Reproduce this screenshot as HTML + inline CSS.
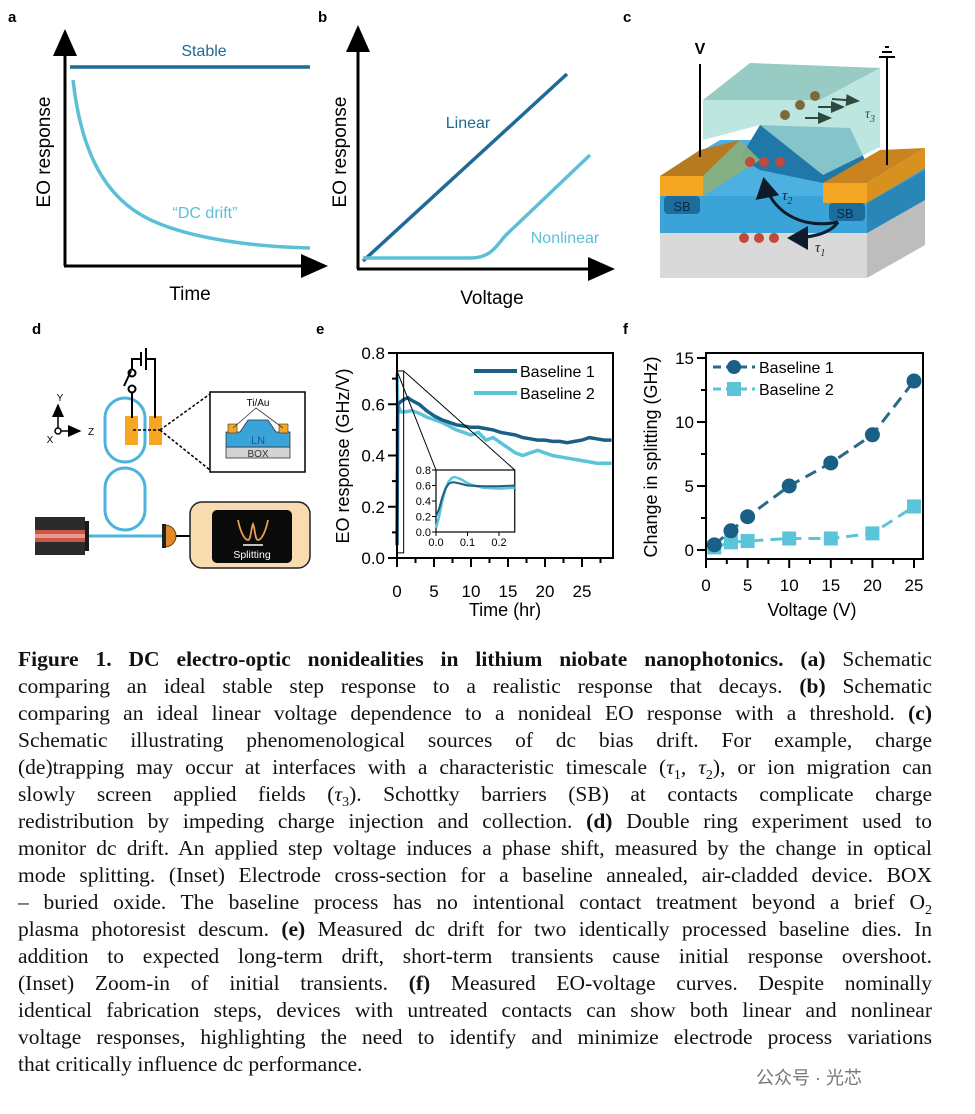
<!DOCTYPE html>
<html><head><meta charset="utf-8">
<style>
html,body{margin:0;padding:0;background:#fff;}
body{width:975px;height:1114px;position:relative;overflow:hidden;font-family:"Liberation Sans",sans-serif;}
svg{position:absolute;left:0;top:0;}
#cap{position:absolute;left:18px;top:646px;width:914px;font-family:"Liberation Serif",serif;font-size:21.5px;line-height:27px;color:#111;}
#cap div{text-align:justify;text-align-last:justify;white-space:nowrap;height:27px;}
#cap div.last{text-align-last:left;}
#cap sub{font-size:14px;line-height:0;vertical-align:baseline;position:relative;top:5px;}
#wm{position:absolute;left:756px;top:1064px;font-family:"Liberation Sans","Noto Sans CJK SC",sans-serif;font-size:18px;color:#777;}
</style></head><body>
<svg id="fig" width="975" height="640" font-family="Liberation Sans, sans-serif">
<defs>
<marker id="ar" markerWidth="10" markerHeight="10" refX="8" refY="5" orient="auto"><path d="M0,1 L9,5 L0,9 Z" fill="#000"/></marker>
<marker id="ar2" markerWidth="8" markerHeight="8" refX="6" refY="4" orient="auto"><path d="M0,0 L7,4 L0,8 Z" fill="#0d1b2a"/></marker>
<marker id="ar3" markerWidth="8" markerHeight="8" refX="6" refY="4" orient="auto"><path d="M0,1 L7,4 L0,7 Z" fill="#2e4a3e"/></marker>
</defs>
<g>
<text x="8" y="22" font-size="15" font-weight="bold">a</text>
<line x1="65" y1="266" x2="65" y2="32" stroke="#000" stroke-width="3" marker-end="url(#ar)"/>
<line x1="64" y1="266" x2="325" y2="266" stroke="#000" stroke-width="3" marker-end="url(#ar)"/>
<line x1="70" y1="67" x2="310" y2="67" stroke="#1f6a96" stroke-width="3.5"/>
<path d="M73,80 C82,160 110,205 160,224 C200,240 260,247 310,248" fill="none" stroke="#5bc0d6" stroke-width="3.5"/>
<text x="204" y="56" font-size="16" fill="#1f6a96" text-anchor="middle">Stable</text>
<text x="205" y="218" font-size="16" fill="#5bc0d6" text-anchor="middle">“DC drift”</text>
<text transform="translate(50,152) rotate(-90)" font-size="19" text-anchor="middle">EO response</text>
<text x="190" y="300" font-size="19" text-anchor="middle">Time</text>
</g>
<g>
<text x="318" y="22" font-size="15" font-weight="bold">b</text>
<line x1="358" y1="269" x2="358" y2="28" stroke="#000" stroke-width="3" marker-end="url(#ar)"/>
<line x1="357" y1="269" x2="612" y2="269" stroke="#000" stroke-width="3" marker-end="url(#ar)"/>
<line x1="363" y1="261" x2="567" y2="74" stroke="#1f6a96" stroke-width="3.5"/>
<path d="M363,258 L470,258 C490,258 495,248 505,236 L590,155" fill="none" stroke="#5bc0d6" stroke-width="3.5"/>
<text x="468" y="128" font-size="16" fill="#1f6a96" text-anchor="middle">Linear</text>
<text x="565" y="243" font-size="16" fill="#5bc0d6" text-anchor="middle">Nonlinear</text>
<text transform="translate(346,152) rotate(-90)" font-size="19" text-anchor="middle">EO response</text>
<text x="492" y="304" font-size="19" text-anchor="middle">Voltage</text>
</g>
<g>
<text x="623" y="22" font-size="15" font-weight="bold">c</text>
<polygon points="660,233 867,233 925,200 925,245 867,278 660,278" fill="#d9d9d9"/>
<polygon points="867,233 925,200 925,245 867,278" fill="#bdbdbd"/>
<polygon points="660,196 867,196 925,165 925,200 867,233 660,233" fill="#3aa3d8"/>
<polygon points="867,203 925,170 925,200 867,233" fill="#2b86b8"/>
<polygon points="660,176 720,140 760,140 805,170 825,178 867,178 867,196 660,196" fill="#4cb0e0"/>
<polygon points="740,158 760,125 850,128 865,160 823,183 760,170" fill="#1f78a8"/>
<polygon points="703,100 750,63 880,68 880,147 823,175 760,125 703,140" fill="#a8ddd6" opacity="0.75"/>
<polygon points="703,100 750,63 880,68 820,100" fill="#8fc4bd" opacity="0.8"/>
<polygon points="660,176 703,176 703,196 660,196" fill="#f5a623"/>
<polygon points="660,176 700,150 740,140 703,176" fill="#b87a20"/>
<polygon points="703,176 740,140 760,160 703,196" fill="#8bb07a" opacity="0.9"/>
<polygon points="823,183 867,183 867,203 823,203" fill="#f5a623"/>
<polygon points="823,183 880,150 925,148 867,183" fill="#c98420"/>
<polygon points="867,183 925,148 925,168 867,203" fill="#d8901f"/>
<rect x="664" y="196" width="36" height="18" rx="4" fill="#1d6d9c"/>
<rect x="829" y="203" width="36" height="18" rx="4" fill="#1d6d9c"/>
<text x="682" y="211" font-size="13" fill="#0b2a40" text-anchor="middle">SB</text>
<text x="845" y="218" font-size="13" fill="#0b2a40" text-anchor="middle">SB</text>
<line x1="700" y1="64" x2="700" y2="157" stroke="#000" stroke-width="2"/>
<text x="700" y="54" font-size="16" font-weight="bold" text-anchor="middle">V</text>
<line x1="887" y1="57" x2="887" y2="165" stroke="#000" stroke-width="2"/>
<line x1="879" y1="57" x2="895" y2="57" stroke="#000" stroke-width="2"/><line x1="882" y1="52" x2="892" y2="52" stroke="#000" stroke-width="2"/><line x1="885" y1="47" x2="889" y2="47" stroke="#000" stroke-width="2"/>
<g fill="#c0483d"><circle cx="750" cy="162" r="5"/><circle cx="764" cy="162" r="5"/><circle cx="780" cy="162" r="5"/><circle cx="744" cy="238" r="5"/><circle cx="759" cy="238" r="5"/><circle cx="774" cy="238" r="5"/></g>
<g fill="#7d6a3a"><circle cx="785" cy="115" r="5"/><circle cx="800" cy="105" r="5"/><circle cx="815" cy="96" r="5"/></g>
<g stroke="#2e4a3e" stroke-width="2" marker-end="url(#ar3)"><line x1="805" y1="118" x2="830" y2="118"/><line x1="818" y1="107" x2="843" y2="107"/><line x1="832" y1="99" x2="858" y2="101"/></g>
<text x="865" y="118" font-size="14" font-style="italic" font-family="Liberation Serif, serif" fill="#2e4a3e">τ<tspan font-size="10" dy="4">3</tspan></text>
<path d="M838,222 C800,230 770,210 764,180" fill="none" stroke="#0d1b2a" stroke-width="3" marker-end="url(#ar2)"/>
<path d="M838,222 C830,234 810,238 790,238" fill="none" stroke="#0d1b2a" stroke-width="3" marker-end="url(#ar2)"/>
<text x="782" y="200" font-size="15" font-style="italic" font-family="Liberation Serif, serif" fill="#0b2a40">τ<tspan font-size="10" dy="4">2</tspan></text>
<text x="815" y="252" font-size="15" font-style="italic" font-family="Liberation Serif, serif" fill="#0b2a40">τ<tspan font-size="10" dy="4">1</tspan></text>
</g>
<g>
<text x="32" y="334" font-size="15" font-weight="bold">d</text>
<rect x="105" y="398" width="40" height="64" rx="20" fill="none" stroke="#4bb3dc" stroke-width="3"/>
<rect x="105" y="468" width="40" height="62" rx="20" fill="none" stroke="#4bb3dc" stroke-width="3"/>
<rect x="125" y="416" width="13" height="29" fill="#f5a623"/><rect x="149" y="416" width="13" height="29" fill="#f5a623"/>
<line x1="133" y1="430" x2="160" y2="430" stroke="#000" stroke-width="1.5" stroke-dasharray="3,2"/>
<polyline points="132,418 132,390" fill="none" stroke="#000" stroke-width="2"/>
<circle cx="132" cy="389" r="3.5" fill="#fff" stroke="#000" stroke-width="2"/><circle cx="132" cy="373" r="3.5" fill="#fff" stroke="#000" stroke-width="2"/>
<line x1="131" y1="371" x2="124" y2="386" stroke="#000" stroke-width="2"/>
<polyline points="132,370 132,359 141,359" fill="none" stroke="#000" stroke-width="2"/>
<line x1="141" y1="352" x2="141" y2="366" stroke="#000" stroke-width="2"/><line x1="146" y1="348" x2="146" y2="370" stroke="#000" stroke-width="2"/>
<polyline points="146,359 155,359 155,418" fill="none" stroke="#000" stroke-width="2"/>
<line x1="160" y1="430" x2="210" y2="394" stroke="#000" stroke-width="1.5" stroke-dasharray="3,2"/>
<line x1="160" y1="430" x2="210" y2="470" stroke="#000" stroke-width="1.5" stroke-dasharray="3,2"/>
<rect x="210" y="392" width="95" height="80" fill="#fff" stroke="#000" stroke-width="1.5"/>
<rect x="226" y="447" width="64" height="11" fill="#d3d3d3" stroke="#333" stroke-width="0.8"/>
<polygon points="226,447 226,432 240,432 248,420 268,420 276,432 290,432 290,447" fill="#3aa3d8" stroke="#333" stroke-width="0.8"/>
<rect x="228" y="424" width="9" height="9" fill="#f5a623" stroke="#333" stroke-width="0.6"/><rect x="279" y="424" width="9" height="9" fill="#f5a623" stroke="#333" stroke-width="0.6"/>
<polyline points="233,428 256,408 283,428" fill="none" stroke="#333" stroke-width="0.8"/>
<text x="258" y="406" font-size="10" text-anchor="middle">Ti/Au</text>
<text x="258" y="444" font-size="11" fill="#1d5d88" text-anchor="middle">LN</text>
<text x="258" y="457" font-size="10" fill="#333" text-anchor="middle">BOX</text>
<g stroke="#000" stroke-width="1.5"><line x1="58" y1="431" x2="58" y2="405" marker-end="url(#ar)"/><line x1="58" y1="431" x2="80" y2="431" marker-end="url(#ar)"/></g>
<circle cx="58" cy="431" r="3" fill="#fff" stroke="#000" stroke-width="1.5"/>
<text x="60" y="401" font-size="10" text-anchor="middle">Y</text><text x="88" y="435" font-size="10">Z</text><text x="50" y="443" font-size="10" text-anchor="middle">X</text>
<rect x="35" y="517" width="50" height="38" fill="#2a2a2a"/><rect x="85" y="521" width="4" height="30" fill="#1a1a1a"/>
<rect x="35" y="530" width="50" height="12" fill="#c9584a"/><rect x="35" y="534" width="50" height="4" fill="#e89a8a"/>
<line x1="89" y1="536" x2="165" y2="536" stroke="#4bb3dc" stroke-width="3"/>
<path d="M165,525 A11,11 0 0 1 165,547 Z" fill="#e08a2a" stroke="#7a3d0a"/><rect x="162" y="524" width="4" height="24" fill="#222"/>
<line x1="176" y1="536" x2="190" y2="536" stroke="#000" stroke-width="2"/>
<rect x="190" y="502" width="120" height="66" rx="12" fill="#f8dcb0" stroke="#222" stroke-width="1.5"/>
<rect x="212" y="510" width="80" height="53" rx="5" fill="#0a0a0a"/>
<path d="M238,520 C240,530 244,540 248,540 C251,540 251,528 253,524 C255,528 255,540 258,540 C262,540 266,530 268,520" fill="none" stroke="#e8a04a" stroke-width="1.8"/>
<line x1="243" y1="545" x2="263" y2="545" stroke="#fff" stroke-width="1.5"/>
<text x="252" y="558" font-size="10.5" fill="#fff" text-anchor="middle">Splitting</text>
</g>
<text x="316" y="334" font-size="15" font-weight="bold">e</text>
<text x="623" y="334" font-size="15" font-weight="bold">f</text>
<g id="chartE"></g>
<g id="chartF"></g>
</svg>
<div id="cap">
<div><b>Figure 1. DC electro-optic nonidealities in lithium niobate nanophotonics. (a)</b> Schematic</div>
<div>comparing an ideal stable step response to a realistic response that decays. <b>(b)</b> Schematic</div>
<div>comparing an ideal linear voltage dependence to a nonideal EO response with a threshold. <b>(c)</b></div>
<div>Schematic illustrating phenomenological sources of dc bias drift. For example, charge</div>
<div>(de)trapping may occur at interfaces with a characteristic timescale (<i>τ</i><sub>1</sub>, <i>τ</i><sub>2</sub>), or ion migration can</div>
<div>slowly screen applied fields (<i>τ</i><sub>3</sub>). Schottky barriers (SB) at contacts complicate charge</div>
<div>redistribution by impeding charge injection and collection. <b>(d)</b> Double ring experiment used to</div>
<div>monitor dc drift. An applied step voltage induces a phase shift, measured by the change in optical</div>
<div>mode splitting. (Inset) Electrode cross-section for a baseline annealed, air-cladded device. BOX</div>
<div>– buried oxide. The baseline process has no intentional contact treatment beyond a brief O<sub>2</sub></div>
<div>plasma photoresist descum. <b>(e)</b> Measured dc drift for two identically processed baseline dies. In</div>
<div>addition to expected long-term drift, short-term transients cause initial response overshoot.</div>
<div>(Inset) Zoom-in of initial transients. <b>(f)</b> Measured EO-voltage curves. Despite nominally</div>
<div>identical fabrication steps, devices with untreated contacts can show both linear and nonlinear</div>
<div>voltage responses, highlighting the need to identify and minimize electrode process variations</div>
<div class="last">that critically influence dc performance.</div>
</div>
<div id="wm">公众号 · 光芯</div>
<script>
const eTime1 = [0,0.1,0.5,1,1.5,2,3,4,5,6,7,8,9,10,11,12,13,14,15,16,17,18,19,20,21,22,23,24,25,26,27,28,29];
const eResp1 = [0.05,0.6,0.61,0.62,0.625,0.615,0.6,0.575,0.555,0.54,0.53,0.52,0.515,0.51,0.51,0.505,0.5,0.49,0.485,0.48,0.47,0.465,0.46,0.46,0.455,0.455,0.45,0.455,0.46,0.47,0.465,0.46,0.46];
const eTime2 = [0,0.1,0.5,1,2,3,4,5,6,7,8,9,10,11,12,13,14,15,16,17,18,19,20,21,22,23,24,25,26,27,28,29];
const eResp2 = [0.72,0.6,0.57,0.57,0.575,0.565,0.55,0.54,0.53,0.515,0.5,0.49,0.48,0.49,0.46,0.47,0.45,0.43,0.41,0.4,0.41,0.42,0.41,0.4,0.395,0.39,0.385,0.38,0.375,0.37,0.37,0.37];
const insetTime1 = [0,0.01,0.02,0.03,0.04,0.05,0.06,0.08,0.1,0.15,0.2,0.25];
const insetResp1 = [0.2,0.3,0.45,0.56,0.62,0.64,0.64,0.62,0.6,0.59,0.59,0.6];
const insetTime2 = [0,0.01,0.02,0.03,0.04,0.05,0.06,0.08,0.1,0.12,0.15,0.2,0.25];
const insetResp2 = [0.05,0.2,0.4,0.55,0.65,0.7,0.71,0.68,0.63,0.6,0.57,0.56,0.57];
const eXTicks = [0,5,10,15,20,25];
const eYTicks = [0.0,0.2,0.4,0.6,0.8];
const insetXTicks = [0.0,0.1,0.2];
const insetYTicks = [0.0,0.2,0.4,0.6,0.8];
const fVolt = [1,3,5,10,15,20,25];
const fBase1 = [0.4,1.5,2.6,5.0,6.8,9.0,13.2];
const fBase2 = [0.2,0.6,0.7,0.9,0.9,1.3,3.4];
const fXTicks = [0,5,10,15,20,25];
const fYTicks = [0,5,10,15];

const NS='http://www.w3.org/2000/svg';
function mk(parent,tag,attrs,txt){const e=document.createElementNS(NS,tag);for(const k in attrs)e.setAttribute(k,attrs[k]);if(txt!==undefined)e.textContent=txt;parent.appendChild(e);return e;}
const C1='#1a5f86', C2='#5bc4d8';

const gE=document.getElementById('chartE');
const ex=t=>397+t*(582-397)/25, ey=v=>558-v*(558-353)/0.8;
function pathOf(xs,ys,fx,fy){return xs.map((x,i)=>(i?'L':'M')+fx(x).toFixed(1)+','+fy(ys[i]).toFixed(1)).join(' ');}
let p=mk(gE,'path',{d:pathOf(eTime2,eResp2,ex,ey),fill:'none',stroke:C2,'stroke-width':3.5});


p=mk(gE,'path',{d:pathOf(eTime1,eResp1,ex,ey),fill:'none',stroke:C1,'stroke-width':3.5});


mk(gE,'rect',{x:397,y:353,width:216,height:205,fill:'none',stroke:'#000','stroke-width':2});
eXTicks.forEach(t=>{mk(gE,'line',{x1:ex(t),y1:558,x2:ex(t),y2:567,stroke:'#000','stroke-width':2});
 const tx=mk(gE,'text',{x:ex(t),y:597,'font-size':17,'text-anchor':'middle'},String(t));});
for(let t=2.5;t<29;t+=5)mk(gE,'line',{x1:ex(t),y1:558,x2:ex(t),y2:563,stroke:'#000','stroke-width':2});
eYTicks.forEach(v=>{mk(gE,'line',{x1:388,y1:ey(v),x2:397,y2:ey(v),stroke:'#000','stroke-width':2});
 const tx=mk(gE,'text',{x:385,y:ey(v)+6,'font-size':17,'text-anchor':'end'},v.toFixed(1));});
for(let v=0.1;v<0.8;v+=0.2)mk(gE,'line',{x1:392,y1:ey(v),x2:397,y2:ey(v),stroke:'#000','stroke-width':2});
let t=mk(gE,'text',{x:505,y:616,'font-size':18,'text-anchor':'middle'},'Time (hr)');
t=mk(gE,'text',{transform:'translate(349,456) rotate(-90)','font-size':18,'text-anchor':'middle'},'EO response (GHz/V)');
mk(gE,'line',{x1:474,y1:371,x2:517,y2:371,stroke:C1,'stroke-width':4});
mk(gE,'text',{x:520,y:377,'font-size':16},'Baseline 1');
mk(gE,'line',{x1:474,y1:393,x2:517,y2:393,stroke:C2,'stroke-width':4});
mk(gE,'text',{x:520,y:399,'font-size':16},'Baseline 2');
mk(gE,'rect',{x:397,y:ey(0.73),width:ex(0.9)-397,height:ey(0.02)-ey(0.73),fill:'none',stroke:'#000','stroke-width':1});
const ix=v=>436+v*(499-436)/0.2, iy=v=>532-v*(532-470)/0.8;
mk(gE,'line',{x1:ex(0),y1:ey(0.73),x2:436,y2:470,stroke:'#000','stroke-width':1});
mk(gE,'line',{x1:ex(0.9),y1:ey(0.73),x2:ix(0.25),y2:470,stroke:'#000','stroke-width':1});
mk(gE,'rect',{x:436,y:470,width:ix(0.25)-436,height:62,fill:'#fff',stroke:'#000','stroke-width':1.2});
p=mk(gE,'path',{d:pathOf(insetTime2,insetResp2,ix,iy),fill:'none',stroke:C2,'stroke-width':2.5});


p=mk(gE,'path',{d:pathOf(insetTime1,insetResp1,ix,iy),fill:'none',stroke:C1,'stroke-width':2});


insetXTicks.forEach(v=>{mk(gE,'line',{x1:ix(v),y1:532,x2:ix(v),y2:536,stroke:'#000'});mk(gE,'text',{x:ix(v),y:546,'font-size':11,'text-anchor':'middle'},v.toFixed(1));});
insetYTicks.forEach(v=>{mk(gE,'line',{x1:432,y1:iy(v),x2:436,y2:iy(v),stroke:'#000'});mk(gE,'text',{x:431,y:iy(v)+4,'font-size':11,'text-anchor':'end'},v.toFixed(1));});

const gF=document.getElementById('chartF');
const fx=v=>706+v*(914-706)/25, fy=v=>550-v*(550-358)/15;
p=mk(gF,'path',{d:pathOf(fVolt,fBase2,fx,fy),fill:'none',stroke:C2,'stroke-width':3,'stroke-dasharray':'12,7'});


p=mk(gF,'path',{d:pathOf(fVolt,fBase1,fx,fy),fill:'none',stroke:'#2a6a88','stroke-width':3,'stroke-dasharray':'12,7'});


fVolt.forEach((v,i)=>{const r=mk(gF,'rect',{x:fx(v)-7,y:fy(fBase2[i])-7,width:14,height:14,fill:C2});
 
 
 const c=mk(gF,'circle',{cx:fx(v),cy:fy(fBase1[i]),r:7.5,fill:C1});
 
 });
mk(gF,'rect',{x:706,y:353,width:217,height:206,fill:'none',stroke:'#000','stroke-width':2});
fXTicks.forEach(v=>{mk(gF,'line',{x1:fx(v),y1:559,x2:fx(v),y2:568,stroke:'#000','stroke-width':2});
 const tx=mk(gF,'text',{x:fx(v),y:591,'font-size':17,'text-anchor':'middle'},String(v));});
for(let v=2.5;v<25;v+=5)mk(gF,'line',{x1:fx(v),y1:559,x2:fx(v),y2:564,stroke:'#000','stroke-width':2});
fYTicks.forEach(v=>{mk(gF,'line',{x1:697,y1:fy(v),x2:706,y2:fy(v),stroke:'#000','stroke-width':2});
 const tx=mk(gF,'text',{x:694,y:fy(v)+6,'font-size':17,'text-anchor':'end'},String(v));});
for(let v=2.5;v<15;v+=5)mk(gF,'line',{x1:701,y1:fy(v),x2:706,y2:fy(v),stroke:'#000','stroke-width':2});
t=mk(gF,'text',{x:812,y:616,'font-size':18,'text-anchor':'middle'},'Voltage (V)');
t=mk(gF,'text',{transform:'translate(657,457) rotate(-90)','font-size':18,'text-anchor':'middle'},'Change in splitting (GHz)');
mk(gF,'line',{x1:713,y1:367,x2:755,y2:367,stroke:'#2a6a88','stroke-width':3,'stroke-dasharray':'8,5'});
mk(gF,'circle',{cx:734,cy:367,r:7,fill:C1});
mk(gF,'text',{x:759,y:373,'font-size':16},'Baseline 1');
mk(gF,'line',{x1:713,y1:389,x2:755,y2:389,stroke:C2,'stroke-width':3,'stroke-dasharray':'8,5'});
mk(gF,'rect',{x:727,y:382,width:14,height:14,fill:C2});
mk(gF,'text',{x:759,y:395,'font-size':16},'Baseline 2');
</script>
</body></html>
